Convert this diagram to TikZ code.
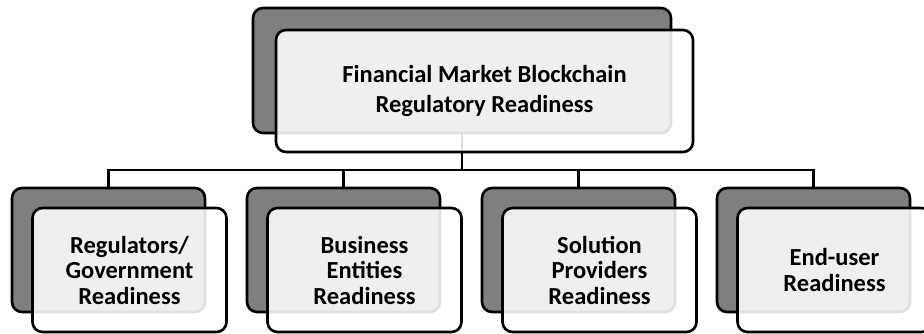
\documentclass[tikz,border=0pt]{standalone}
\usepackage{fontspec}
\setmainfont{Carlito}
\usepackage{tikz}

\definecolor{backgray}{HTML}{7F7F7F}

\begin{document}
\begin{tikzpicture}[x=1pt,y=-1pt,
        backbox/.style={shape=rectangle,draw=black,line width=2.6pt,rounded corners=10pt,fill=backgray},
        frontbox/.style={shape=rectangle,draw=black,line width=2.6pt,rounded corners=10pt,fill=white,fill opacity=0.88,text opacity=1,align=center,font=\bfseries},
        link/.style={draw=black,line width=2.6pt}]
        \useasboundingbox (0,0) rectangle (924,334);

        % shaded boxes behind
        \node[backbox,minimum width=418pt,minimum height=125pt] (topback) at (462,70.5) {};
        \node[backbox,minimum width=193pt,minimum height=124pt] (regback) at (108.5,250) {};
        \node[backbox,minimum width=193pt,minimum height=124pt] (busback) at (343.5,250) {};
        \node[backbox,minimum width=193pt,minimum height=124pt] (solback) at (578.5,250) {};
        \node[backbox,minimum width=193pt,minimum height=124pt] (endback) at (813.5,250) {};

        \coordinate (bus) at (462,170);
        \path [link](topback.south) -- (bus);
        \path [link](bus) -| (regback.north);
        \path [link](bus) -| (busback.north);
        \path [link](bus) -| (solback.north);
        \path [link](bus) -| (endback.north);

        % labelled boxes in front
        \node[frontbox,minimum width=417pt,minimum height=122pt,font=\bfseries\fontsize{24.5}{30}\selectfont] (top) at (484.5,91) {Financial Market Blockchain\\Regulatory Readiness};
        \node[frontbox,minimum width=194pt,minimum height=124pt,font=\bfseries\fontsize{24.5}{25.5}\selectfont] (reg) at (129.5,270) {Regulators/\\Government\\Readiness};
        \node[frontbox,minimum width=194pt,minimum height=124pt,font=\bfseries\fontsize{24.5}{25.5}\selectfont] (biz) at (364.5,270) {Business\\Entities\\Readiness};
        \node[frontbox,minimum width=194pt,minimum height=124pt,font=\bfseries\fontsize{24.5}{25.5}\selectfont] (sol) at (599.5,270) {Solution\\Providers\\Readiness};
        \node[frontbox,minimum width=194pt,minimum height=124pt,font=\bfseries\fontsize{24.5}{25.5}\selectfont] (end) at (834.5,270) {End-user\\Readiness};
    \end{tikzpicture}
\end{document}
